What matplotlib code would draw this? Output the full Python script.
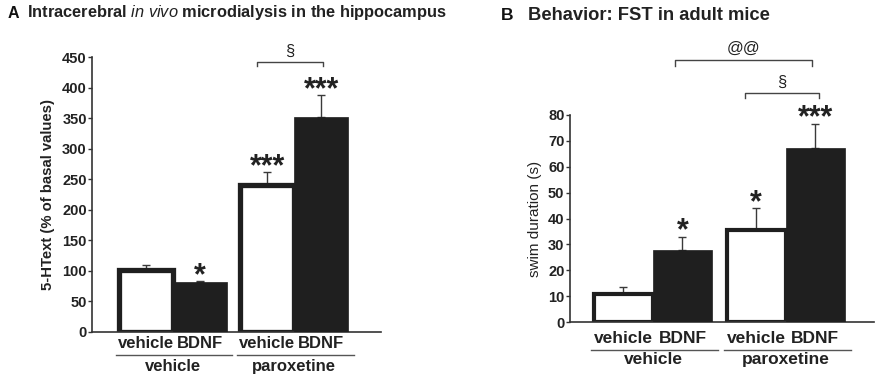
import matplotlib
matplotlib.use("Agg")
import matplotlib.pyplot as plt

plt.rcParams['font.family'] = ['Liberation Sans', 'DejaVu Sans']
plt.rcParams['mathtext.fontset'] = 'custom'
plt.rcParams['mathtext.it'] = 'Liberation Sans:italic'
plt.rcParams['mathtext.rm'] = 'Liberation Sans'

# bar order: vehicle/vehicle, vehicle/BDNF, paroxetine/vehicle, paroxetine/BDNF
bar_labels = ['vehicle', 'BDNF', 'vehicle', 'BDNF']
group_labels = ['vehicle', 'paroxetine']

# A: 5-HText (% of basal values)
a_values = [101, 81, 241, 352]
a_errors = [9, 2, 21, 36]
a_stars = ['', '*', '***', '***']

# B: swim duration (s)
b_values = [11, 28, 35.5, 67]
b_errors = [2.7, 5, 8.5, 9.5]
b_stars = ['', '*', '*', '***']

positions = [0, 1, 2.25, 3.25]
TXT = '#222222'
BLACK = '#1f1f1f'

fig = plt.figure(figsize=(8.92, 3.83), dpi=100)


def draw_panel(ax, values, errors, stars, edge_lw, ymax, star_pad, line_y, group_y,
               label_pad, xfs, yfs):
    for i, (p, v) in enumerate(zip(positions, values)):
        if i % 2 == 0:
            ax.bar(p, v, width=1.0, color='white', edgecolor=BLACK, linewidth=edge_lw, zorder=2)
        else:
            ax.bar(p, v, width=1.0, color=BLACK, edgecolor=BLACK, linewidth=0.5, zorder=3)
    ax.errorbar(positions, values, yerr=[[0] * 4, errors], fmt='none', ecolor='#3a3a3a',
                elinewidth=1.0, capsize=3, capthick=1.0, zorder=1)
    for p, v, e, s in zip(positions, values, errors, stars):
        if s:
            ax.text(p, v + e + star_pad, s, ha='center', va='center', fontsize=22,
                    fontweight='bold', color=TXT)

    ax.spines['top'].set_visible(False)
    ax.spines['right'].set_visible(False)
    for sp in ('left', 'bottom'):
        ax.spines[sp].set_linewidth(1.2)
        ax.spines[sp].set_color('#333333')
    ax.set_ylim(0, ymax)
    ax.set_xticks(positions)
    ax.set_xticklabels(bar_labels, fontsize=xfs, fontweight='bold', color=TXT)
    ax.tick_params(axis='x', length=0, pad=label_pad)
    ax.tick_params(axis='y', length=3, width=1, direction='out', labelsize=yfs,
                   colors='#333333', labelcolor=TXT, pad=1)
    for lab in ax.get_yticklabels():
        lab.set_fontweight('bold')

    trans = ax.get_xaxis_transform()
    for g, name in enumerate(group_labels):
        left = positions[2 * g] - 0.55
        right = positions[2 * g + 1] + 0.6
        ax.plot([left, right], [line_y, line_y], color='#555555', lw=1.0,
                transform=trans, clip_on=False)
        ax.text((positions[2 * g] + positions[2 * g + 1]) / 2, group_y, name,
                transform=trans, ha='center', va='center', fontsize=xfs,
                fontweight='bold', color=TXT)


def bracket(ax, x0, x1, y, drop, label, label_y):
    ax.plot([x0, x0, x1, x1], [y - drop, y, y, y - drop], color='#444444', lw=1.0, clip_on=False)
    ax.text((x0 + x1) / 2, label_y, label, ha='center', va='center', fontsize=12,
            color=TXT, clip_on=False)


# Panel A
axA = fig.add_axes([0.1035, 0.1339, 0.3237, 0.7164])
draw_panel(axA, a_values, a_errors, a_stars, 3.8, 450, 8, -0.085, -0.127, 3, 12, 10.5)
axA.set_xlim(-0.985, 4.36)
axA.set_yticks(range(0, 451, 50))
axA.set_ylabel('5-HText (% of basal values)', fontsize=10.7, fontweight='bold', color=TXT, labelpad=5)
bracket(axA, 2.06, 3.29, 442, 6, '§', 459)

# Panel B
axB = fig.add_axes([0.639, 0.1585, 0.3408, 0.542])
draw_panel(axB, b_values, b_errors, b_stars, 3.0, 80, 2, -0.135, -0.18, 6, 12.5, 10.5)
axB.set_xlim(-0.907, 4.246)
axB.set_yticks(range(0, 81, 10))
axB.set_ylabel('swim duration (s)', fontsize=11, color=TXT, labelpad=4)
bracket(axB, 2.06, 3.31, 88.3, 2, '§', 92.6)
bracket(axB, 0.87, 3.19, 100.9, 2, '@@', 105.6)

# panel titles
fig.text(8 / 892, 1 - 13 / 383, 'A', fontsize=11.5, fontweight='bold', va='center', color='#111111')
fig.text(27 / 892, 1 - 13 / 383, r'Intracerebral $in\ vivo$ microdialysis in the hippocampus',
         fontsize=11.8, fontweight='bold', va='center', color=TXT)
fig.text(501 / 892, 1 - 16 / 383, 'B', fontsize=12.5, fontweight='bold', va='center', color='#111111')
fig.text(528 / 892, 1 - 16 / 383, 'Behavior: FST in adult mice', fontsize=13.2,
         fontweight='bold', va='center', color=TXT)

fig.savefig('out.png', dpi=100)
